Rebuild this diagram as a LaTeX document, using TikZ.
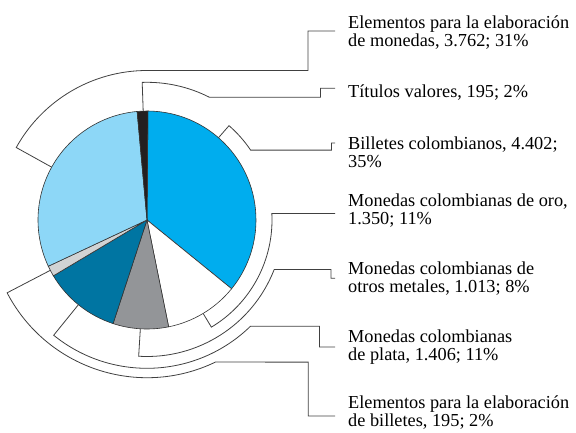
\documentclass[tikz,border=0pt]{standalone}
\usepackage{fontspec}
\setmainfont{Liberation Serif}
\definecolor{cblue}{HTML}{00ADEE}
\definecolor{clblue}{HTML}{8DD7F7}
\definecolor{cdblue}{HTML}{0075A2}
\definecolor{cgray}{HTML}{939598}
\definecolor{clgray}{HTML}{D1D3D4}
\definecolor{cblack}{HTML}{231F20}
\newcommand{\twolines}[2]{\vtop{\baselineskip=18.4pt\hbox{#1}\hbox{#2}}}
\newcommand{\pieslice}[3]{\filldraw[slice,fill=#3] (O) -- (#1:109) arc[start angle=#1,end angle=#2,radius=109] -- cycle;}
\begin{document}
\begin{tikzpicture}[x=1pt,y=1pt,
  conn/.style={draw=black!75,line width=0.8pt},
  slice/.style={draw=black!80,line width=0.6pt},
  lbl/.style={anchor=base west,inner sep=0pt,font=\fontsize{18.3}{18.4}\selectfont}]
\useasboundingbox (-147,-212) rectangle (429,220);
\coordinate (O) at (0,0);
% labels
\node[lbl] (L1) at (201,191.7) {\twolines{Elementos para la elaboración}{de monedas, 3.762; 31\%}};
\node[lbl] (L2) at (201,122.5) {Títulos valores, 195; 2\%};
\node[lbl] (L3) at (201,71) {\twolines{Billetes colombianos, 4.402;}{35\%}};
\node[lbl] (L4) at (201,13.5) {\twolines{Monedas colombianas de oro,}{1.350; 11\%}};
\node[lbl] (L5) at (201,-54.5) {\twolines{Monedas colombianas de}{otros metales, 1.013; 8\%}};
\node[lbl] (L6) at (201,-122) {\twolines{Monedas colombianas}{de plata, 1.406; 11\%}};
\node[lbl] (L7) at (201,-188.5) {\twolines{Elementos para la elaboración}{de billetes, 195; 2\%}};
% connector ends
\coordinate (E1) at (188,189);
\coordinate (E2) at (188,131.7);
\coordinate (E3) at (188,77);
\coordinate (E4) at (188,6.54);
\coordinate (E5) at (188,-58.3);
\coordinate (E6) at (188,-127);
\coordinate (E7) at (188,-196);
% slice tick points
\coordinate (T1) at (151:109);
\coordinate (T2) at (92:109);
\coordinate (T3) at (49:109);
\coordinate (T4) at (-59:109);
\coordinate (T5) at (-93.5:109);
\coordinate (T6) at (-129:109);
\coordinate (T7) at (-152.5:109);
% connectors
\draw[conn] (T1) -- (151:149.5) arc[start angle=151,end angle=90,radius=149.5] -- (161,149.5) |- (E1);
\draw[conn] (T2) -- (92:137.7) arc[start angle=92,end angle=63,radius=137.7] -- (173.5,122.69) |- (E2);
\draw[conn] (T3) -- (49:125) arc[start angle=49,end angle=34,radius=125] -- (184.5,69.9) |- (E3);
\draw[conn] (T4) -- (-59:125) arc[start angle=-59,end angle=3,radius=125] -- (E4);
\draw[conn] (T5) -- (-93.5:136.5) arc[start angle=-93.5,end angle=-21.3,radius=136.5] -- (184,-49.58) |- (E5);
\draw[conn] (T6) -- (-129:148.3) arc[start angle=-129,end angle=-45.8,radius=148.3] -- (172.5,-106.33) |- (E6);
\draw[conn] (T7) -- (-152.5:157.7) arc[start angle=-152.5,end angle=-64.3,radius=157.7] -- (161.3,-142.1) |- (E7);
% pie
\pieslice{89.5}{-39.1}{cblue}
\pieslice{-39.1}{-78.54}{white}
\pieslice{-78.54}{-108.13}{cgray}
\pieslice{-108.13}{-149.2}{cdblue}
\pieslice{-149.2}{-154.9}{clgray}
\pieslice{-154.9}{-264.8}{clblue}
\pieslice{-264.8}{-270.5}{cblack}
\end{tikzpicture}
\end{document}
